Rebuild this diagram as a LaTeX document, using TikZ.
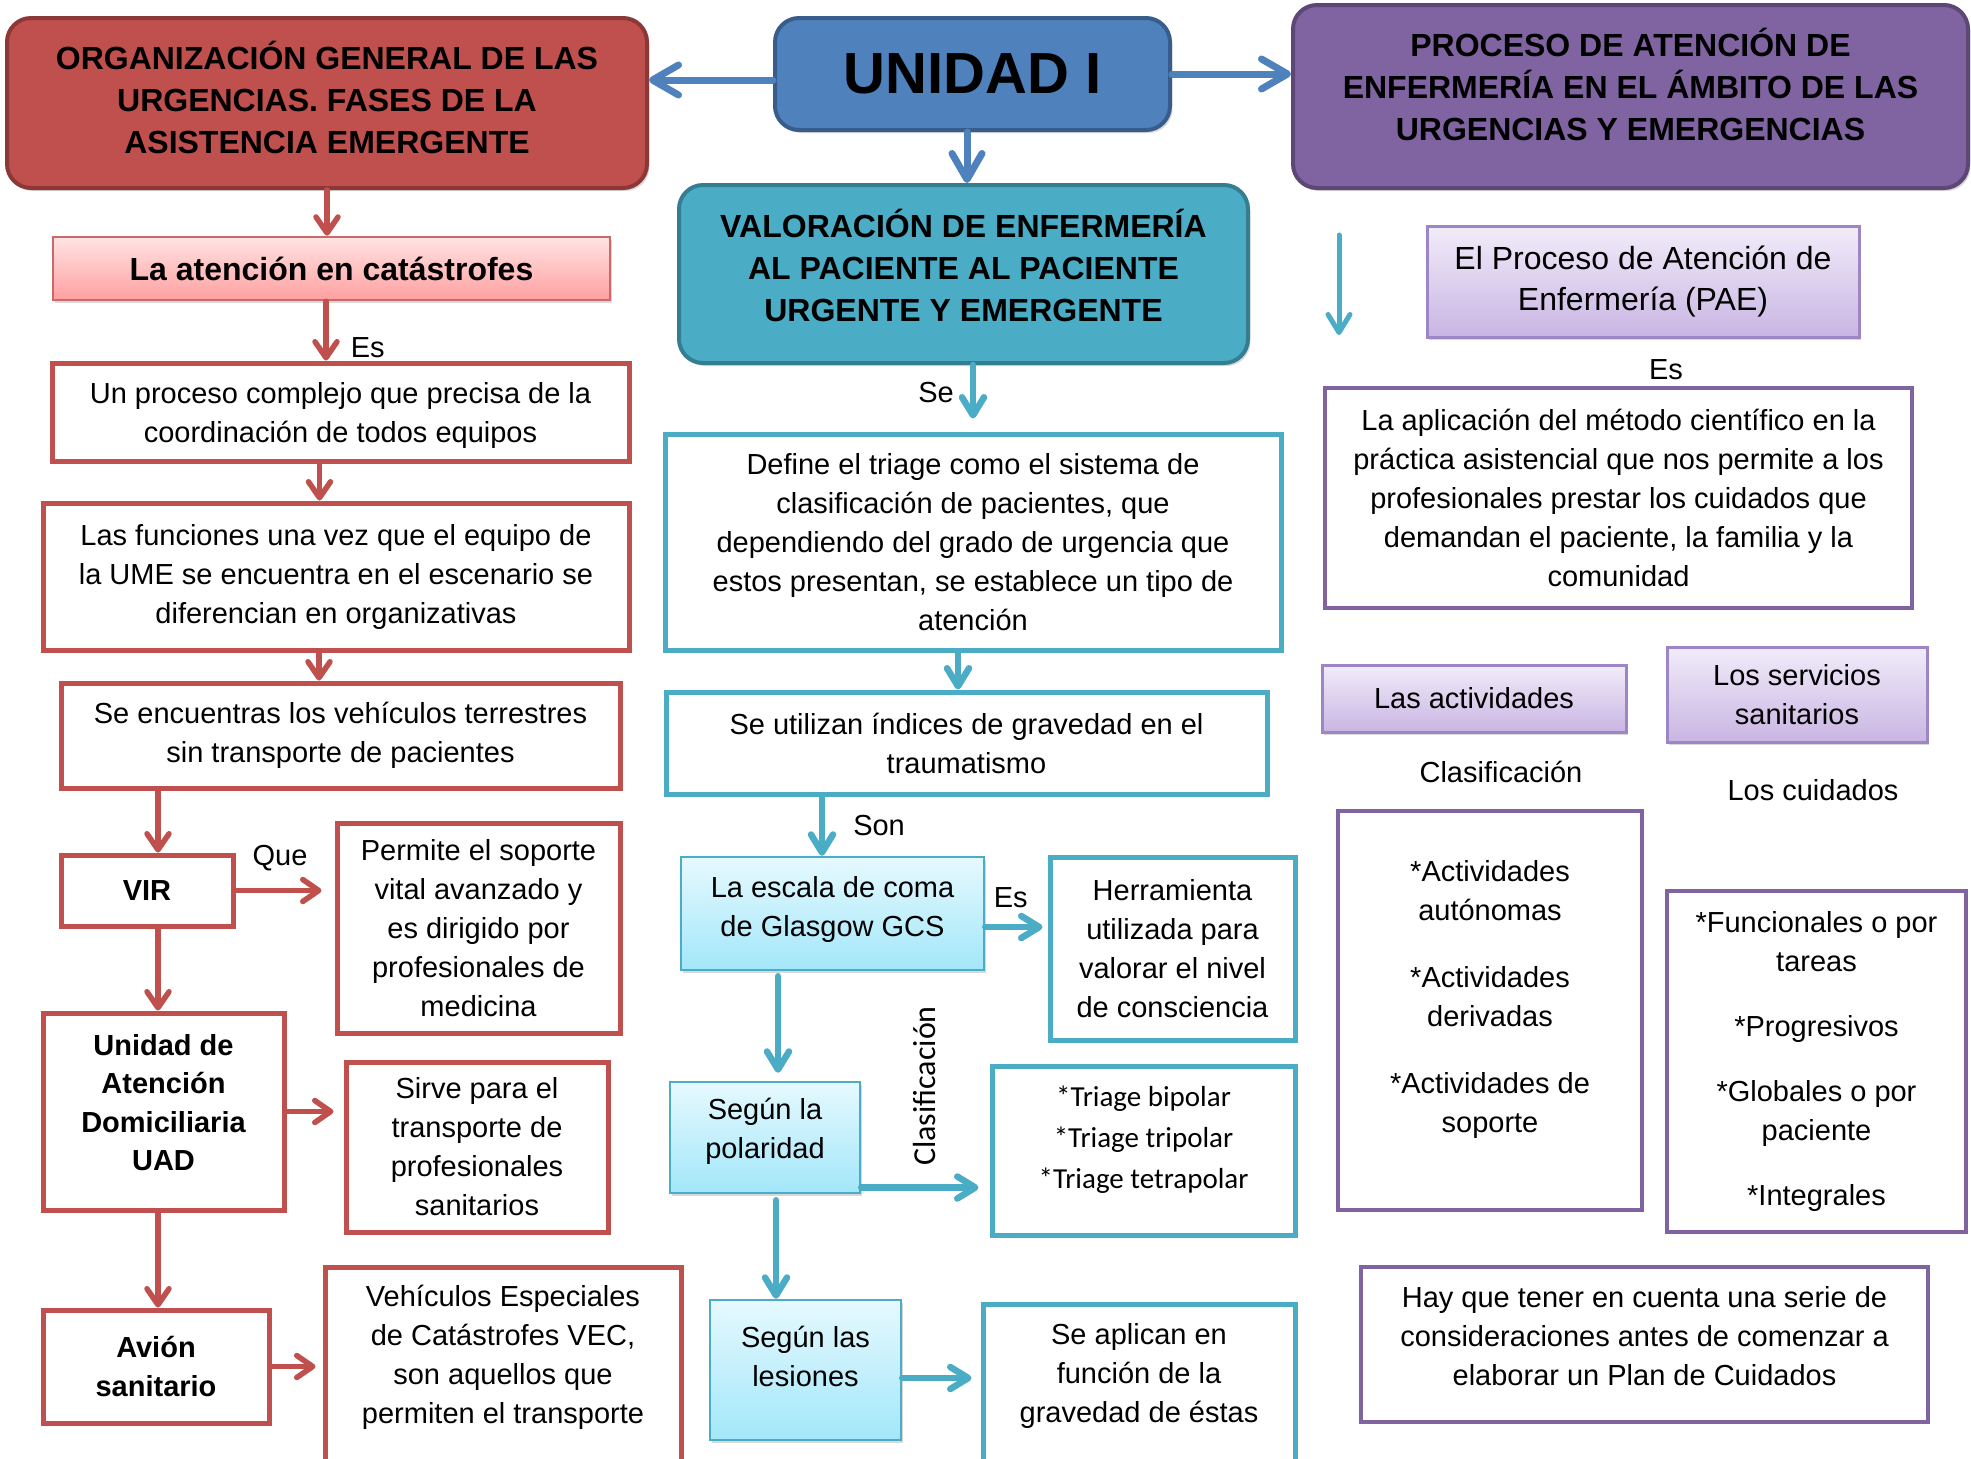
\documentclass[tikz,border=0pt]{standalone}
\usepackage{fontspec}
\setmainfont{Liberation Sans}
\newfontfamily\calibri{Carlito}
\usetikzlibrary{arrows.meta,shadows}
\definecolor{redA}{HTML}{C0504D}
\definecolor{redB}{HTML}{8C3836}
\definecolor{blueA}{HTML}{4F81BD}
\definecolor{blueB}{HTML}{385D8A}
\definecolor{purA}{HTML}{8064A2}
\definecolor{purB}{HTML}{5C4776}
\definecolor{tealA}{HTML}{4BACC6}
\definecolor{tealB}{HTML}{357D91}
\definecolor{pinkT}{HTML}{FFE3E3}
\definecolor{pinkB}{HTML}{FFA0A0}
\definecolor{lavT}{HTML}{F1ECF9}
\definecolor{lavB}{HTML}{C9B5E3}
\definecolor{lavD}{HTML}{9D85C6}
\definecolor{cyT}{HTML}{E6F9FE}
\definecolor{cyB}{HTML}{A2E7FA}
\newcommand\myfN{\fontsize{14.5pt}{19.5pt}\selectfont}
\newcommand\myfL{\fontsize{16pt}{20.5pt}\selectfont}
\newcommand\myfB{\fontsize{14.5pt}{19.25pt}\selectfont\bfseries}
\newcommand\myfH{\fontsize{16pt}{21pt}\selectfont\bfseries}
\newcommand\myfC{\calibri\fontsize{14.5pt}{20.5pt}\selectfont}
\begin{document}
\begin{tikzpicture}[x=0.5pt,y=-0.5pt,
  bx/.style={rectangle, align=center, inner sep=0pt, font=\myfN},
  shd/.style={drop shadow={opacity=0.3, shadow xshift=1.2pt, shadow yshift=-1.5pt}},
  hdr/.style={bx, rounded corners=12pt, line width=2pt, font=\myfH, shd},
  redbox/.style={bx, draw=redA, line width=2.5pt, fill=white},
  tealbox/.style={bx, draw=tealA, line width=2.5pt, fill=white},
  purbox/.style={bx, draw=purA, line width=2.25pt, fill=white},
  pinkbox/.style={bx, draw=redA!85, line width=1.25pt, top color=pinkT, bottom color=pinkB, shd},
  lavbox/.style={bx, draw=lavD, line width=1.5pt, top color=lavT, bottom color=lavB, shd},
  cybox/.style={bx, draw=tealA, line width=1.25pt, top color=cyT, bottom color=cyB, shd},
  lbl/.style={align=center, inner sep=0pt, font=\myfN},
  lab/.style={inner sep=0pt, font=\myfN},
  redarr/.style={draw=redA, line width=2.75pt, line cap=round, -{Straight Barb[round,length=8pt,width=11pt]}},
  bluearr/.style={draw=blueA, line width=3.5pt, line cap=round, -{Straight Barb[round,length=13pt,width=15pt]}},
  cyanarr/.style={draw=tealA, line width=3.25pt, line cap=round, -{Straight Barb[round,length=9pt,width=11pt]}}
]
\useasboundingbox (0,0) rectangle (1971,1458);
\fill[white] (0,0) rectangle (1971,1458);

% ---------- headers
\node[hdr, fill=redA, draw=redB, minimum width=320pt, minimum height=85pt,
  label={[lbl, font=\myfH, yshift=3pt]center:{ORGANIZACIÓN GENERAL DE LAS\\URGENCIAS. FASES DE LA\\ASISTENCIA EMERGENTE}}] (org) at (327,103) {};
\node[hdr, fill=blueA, draw=blueB, minimum width=197.5pt, minimum height=56pt,
  font=\fontsize{29pt}{32pt}\selectfont\bfseries] (unidad) at (972.5,74) {UNIDAD I};
\node[hdr, fill=purA, draw=purB, minimum width=337.5pt, minimum height=91.5pt,
  label={[lbl, font=\myfH, yshift=6pt]center:{PROCESO DE ATENCIÓN DE\\ENFERMERÍA EN EL ÁMBITO DE LAS\\URGENCIAS Y EMERGENCIAS}}] (proc) at (1630.5,96.5) {};
\node[hdr, fill=tealA, draw=tealB, minimum width=284.5pt, minimum height=89pt,
  label={[lbl, font=\myfH, yshift=4.5pt]center:{VALORACIÓN DE ENFERMERÍA\\AL PACIENTE AL PACIENTE\\URGENTE Y EMERGENTE}}] (valor) at (963.5,274) {};

% ---------- left column
\node[pinkbox, minimum width=278.5pt, minimum height=31.5pt, font=\myfH] (aten) at (331.5,268.5) {La atención en catástrofes};
\node[redbox, minimum width=288.5pt, minimum height=49pt,
  label={[lbl, yshift=-1.5pt]center:{Un proceso complejo que precisa de la\\coordinación de todos equipos}}] (proc1) at (340.5,412) {};
\node[redbox, minimum width=293pt, minimum height=73.5pt] (fun) at (336,576.5)
  {Las funciones una vez que el equipo de\\la UME se encuentra en el escenario se\\diferencian en organizativas};
\node[redbox, minimum width=279.5pt, minimum height=52.5pt] (enc) at (340.5,735.5)
  {Se encuentras los vehículos terrestres\\sin transporte de pacientes};
\node[redbox, minimum width=86pt, minimum height=35.5pt, font=\myfB] (vir) at (147,890.5) {VIR};
\node[redbox, minimum width=141.5pt, minimum height=105pt] (perm) at (478.5,928)
  {Permite el soporte\\vital avanzado y\\es dirigido por\\profesionales de\\medicina};
\node[redbox, minimum width=120.5pt, minimum height=98.5pt,
  label={[lbl, font=\myfB, yshift=4.5pt]center:{Unidad de\\Atención\\Domiciliaria\\UAD}}] (uad) at (163.5,1111.5) {};
\node[redbox, minimum width=131pt, minimum height=85pt] (sirve) at (477,1147)
  {Sirve para el\\transporte de\\profesionales\\sanitarios};
\node[redbox, minimum width=113pt, minimum height=56.5pt, font=\myfB] (avion) at (156,1366.5) {Avión\\sanitario};
\node[redbox, minimum width=178pt, minimum height=106.5pt,
  label={[lbl, yshift=8pt]center:{Vehículos Especiales\\de Catástrofes VEC,\\son aquellos que\\permiten el transporte}}] (veh) at (503,1373.5) {};

% ---------- middle column
\node[tealbox, minimum width=308pt, minimum height=108pt] (define) at (973,542)
  {Define el triage como el sistema de\\clasificación de pacientes, que\\dependiendo del grado de urgencia que\\estos presentan, se establece un tipo de\\atención};
\node[tealbox, minimum width=300.5pt, minimum height=51pt] (util) at (966.5,743)
  {Se utilizan índices de gravedad en el\\traumatismo};
\node[cybox, minimum width=151.5pt, minimum height=56.5pt,
  label={[lbl, yshift=2pt]center:{La escala de coma\\de Glasgow GCS}}] (gcs) at (832.5,913.5) {};
\node[tealbox, minimum width=122.5pt, minimum height=91.5pt] (herr) at (1172.5,948.5)
  {Herramienta\\utilizada para\\valorar el nivel\\de consciencia};
\node[cybox, minimum width=95pt, minimum height=55.5pt,
  label={[lbl, yshift=3pt]center:{Según la\\polaridad}}] (pol) at (765,1137.5) {};
\node[tealbox, minimum width=151.5pt, minimum height=84.5pt,
  label={[lbl, font=\myfC, yshift=5.5pt]center:{*Triage bipolar\\*Triage tripolar\\*Triage tetrapolar}}] (triage) at (1143.5,1150.5) {};
\node[cybox, minimum width=95.5pt, minimum height=70pt,
  label={[lbl, yshift=7pt]center:{Según las\\lesiones}}] (les) at (805.5,1370) {};
\node[tealbox, minimum width=156pt, minimum height=88pt,
  label={[lbl, yshift=8pt]center:{Se aplican en\\función de la\\gravedad de éstas}}] (apl) at (1139,1392) {};
\node[rotate=90, inner sep=0pt, font=\calibri\fontsize{16pt}{19pt}\selectfont] (clasif) at (924,1086) {Clasificación};

% ---------- right column
\node[lavbox, minimum width=216pt, minimum height=55.5pt, font=\myfL] (pae) at (1643,281.5)
  {El Proceso de Atención de\\Enfermería (PAE)};
\node[lab] (es3) at (1666,370) {Es};
\node[purbox, minimum width=293.5pt, minimum height=110pt] (aplic) at (1618.5,498)
  {La aplicación del método científico en la\\práctica asistencial que nos permite a los\\profesionales prestar los cuidados que\\demandan el paciente, la familia y la\\comunidad};
\node[lavbox, minimum width=152pt, minimum height=33.5pt] (lasact) at (1474,698.5) {Las actividades};
\node[lavbox, minimum width=130pt, minimum height=47.5pt] (servs) at (1797,694.5) {Los servicios\\sanitarios};
\node[lab] (clas2) at (1501,772) {Clasificación};
\node[lab] (cuidl) at (1813,790) {Los cuidados};
\node[purbox, minimum width=152pt, minimum height=199.5pt,
  label={[lbl, yshift=5.5pt]center:{*Actividades\\autónomas\\[14pt]*Actividades\\derivadas\\[14pt]*Actividades de\\soporte}}] (actbox) at (1490,1010.5) {};
\node[purbox, minimum width=149.5pt, minimum height=170.5pt] (cuid) at (1816.5,1061.5)
  {*Funcionales o por\\tareas\\[13pt]*Progresivos\\[13pt]*Globales o por\\paciente\\[13pt]*Integrales};
\node[purbox, minimum width=283.5pt, minimum height=77.5pt,
  label={[lbl, yshift=4pt]center:{Hay que tener en cuenta una serie de\\consideraciones antes de comenzar a\\elaborar un Plan de Cuidados}}] (hay) at (1644.5,1344.5) {};

% ---------- blue connectors
\draw[bluearr] ([yshift=-3pt]unidad.west) -- ([yshift=-3pt]unidad.west -| org.east);
\draw[bluearr] (unidad.east) -- (unidad.east -| proc.west);
\draw[bluearr] ([xshift=-2.75pt]unidad.south) -- ([xshift=-2.75pt]unidad.south |- valor.north);

% ---------- red connectors
\draw[redarr] (org.south) -- (org.south |- aten.north);
\draw[redarr] ([xshift=-2.75pt]aten.south) -- ([xshift=-2.75pt]aten.south |- proc1.north)
  node[lab, pos=0.79, anchor=west, xshift=11pt] {Es};
\draw[redarr] ([xshift=-10.5pt]proc1.south) -- ([xshift=-10.5pt]proc1.south |- fun.north);
\draw[redarr] ([xshift=-8.5pt]fun.south) -- ([xshift=-8.5pt]fun.south |- enc.north);
\draw[redarr] ([xshift=5.5pt]vir.north |- enc.south) -- ([xshift=5.5pt]vir.north);
\draw[redarr, shorten >=6.5pt] (vir.east) -- (vir.east -| perm.west)
  node[lab, pos=0.45, yshift=16pt] {Que};
\draw[redarr] ([xshift=5.5pt]vir.south) -- ([xshift=5.5pt]vir.south |- uad.north);
\draw[redarr, shorten >=5pt] (uad.east) -- (uad.east -| sirve.west);
\draw[redarr] ([xshift=1pt]avion.north |- uad.south) -- ([xshift=1pt]avion.north);
\draw[redarr, shorten >=3.5pt] (avion.east) -- (avion.east -| veh.west);

% ---------- cyan connectors
\draw[cyanarr, shorten >=6.5pt] (define.north |- valor.south) -- (define.north)
  node[lab, pos=0.42, anchor=east, xshift=-8pt] {Se};
\draw[cyanarr] ([xshift=-7.5pt]define.south) -- ([xshift=-7.5pt]define.south |- util.north);
\draw[cyanarr] ([xshift=-5.25pt]gcs.north |- util.south) -- ([xshift=-5.25pt]gcs.north)
  node[lab, pos=0.49, anchor=west, xshift=14pt] {Son};
\draw[cyanarr, shorten >=2.5pt] ([yshift=-6.75pt]gcs.east) -- ([yshift=-6.75pt]gcs.east -| herr.west)
  node[lab, pos=0.41, yshift=14.5pt] {Es};
\draw[cyanarr, shorten >=4pt, shorten <=2.5pt] ([xshift=6.5pt]pol.north |- gcs.south) -- ([xshift=6.5pt]pol.north);
\draw[cyanarr, shorten >=5.5pt] ([yshift=-25pt]pol.east) -- ([yshift=-25pt]pol.east -| triage.west);
\draw[cyanarr, shorten <=3pt] ([xshift=5.5pt]pol.south) -- ([xshift=5.5pt]pol.south |- les.north);
\draw[cyanarr, shorten >=4.5pt] ([yshift=-4pt]les.east) -- ([yshift=-4pt]les.east -| apl.west);
\coordinate (fa) at (1339,235);
\coordinate (fb) at (1339,335);
\draw[cyanarr, line width=2.5pt] (fa) -- (fb);
\end{tikzpicture}
\end{document}
